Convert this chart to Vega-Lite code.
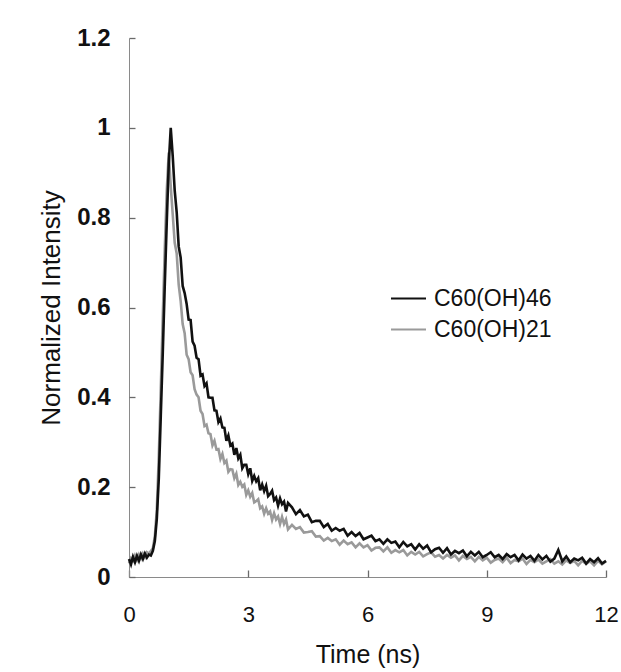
{
  "$schema": "https://vega.github.io/schema/vega-lite/v6.json",
  "width": 477,
  "height": 539,
  "autosize": "none",
  "padding": {"left": 129, "top": 38, "right": 15, "bottom": 95},
  "background": "white",
  "config": {
    "font": "Liberation Sans",
    "view": {"stroke": null},
    "axis": {"grid": false, "domainColor": "#8a8a8a", "tickColor": "#6a6a6a", "tickWidth": 1.3, "labelColor": "#111", "titleColor": "#111"}
  },
  "data": {
    "values": [
      {"t":0,"b":0.040,"g":0.030},{"t":0.05,"b":0.028,"g":0.042},{"t":0.1,"b":0.045,"g":0.036},{"t":0.15,"b":0.033,"g":0.048},
      {"t":0.2,"b":0.047,"g":0.038},{"t":0.25,"b":0.036,"g":0.050},{"t":0.3,"b":0.050,"g":0.041},{"t":0.35,"b":0.040,"g":0.052},
      {"t":0.4,"b":0.052,"g":0.044},{"t":0.45,"b":0.043,"g":0.055},{"t":0.5,"b":0.050,"g":0.052},{"t":0.55,"b":0.048,"g":0.058},
      {"t":0.6,"b":0.058,"g":0.064},{"t":0.65,"b":0.080,"g":0.090},{"t":0.7,"b":0.130,"g":0.150},{"t":0.75,"b":0.220,"g":0.270},
      {"t":0.8,"b":0.360,"g":0.420},{"t":0.85,"b":0.500,"g":0.580},{"t":0.9,"b":0.650,"g":0.730},{"t":0.95,"b":0.790,"g":0.860},
      {"t":1.0,"b":0.920,"g":0.945},{"t":1.05,"b":1.000,"g":0.870},{"t":1.1,"b":0.937,"g":0.807},{"t":1.15,"b":0.860,"g":0.744},
      {"t":1.2,"b":0.812,"g":0.720},{"t":1.25,"b":0.736,"g":0.651},{"t":1.3,"b":0.711,"g":0.614},{"t":1.35,"b":0.648,"g":0.563},
      {"t":1.4,"b":0.632,"g":0.543},{"t":1.45,"b":0.608,"g":0.495},{"t":1.5,"b":0.573,"g":0.485},{"t":1.55,"b":0.572,"g":0.456},
      {"t":1.6,"b":0.524,"g":0.449},{"t":1.65,"b":0.515,"g":0.418},{"t":1.7,"b":0.488,"g":0.406},{"t":1.75,"b":0.485,"g":0.400},
      {"t":1.8,"b":0.448,"g":0.370},{"t":1.85,"b":0.451,"g":0.363},{"t":1.9,"b":0.425,"g":0.336},{"t":1.95,"b":0.431,"g":0.339},
      {"t":2.0,"b":0.400,"g":0.320},{"t":2.05,"b":0.399,"g":0.318},{"t":2.1,"b":0.399,"g":0.293},{"t":2.15,"b":0.371,"g":0.303},
      {"t":2.2,"b":0.370,"g":0.284},{"t":2.25,"b":0.345,"g":0.285},{"t":2.3,"b":0.353,"g":0.263},{"t":2.35,"b":0.333,"g":0.274},
      {"t":2.4,"b":0.332,"g":0.254},{"t":2.45,"b":0.303,"g":0.259},{"t":2.5,"b":0.315,"g":0.234},{"t":2.55,"b":0.293,"g":0.240},
      {"t":2.6,"b":0.297,"g":0.239},{"t":2.65,"b":0.272,"g":0.220},{"t":2.7,"b":0.287,"g":0.230},{"t":2.75,"b":0.264,"g":0.205},
      {"t":2.8,"b":0.272,"g":0.212},{"t":2.85,"b":0.242,"g":0.201},{"t":2.9,"b":0.250,"g":0.206},{"t":2.95,"b":0.250,"g":0.183},
      {"t":3.0,"b":0.229,"g":0.193},{"t":3.05,"b":0.242,"g":0.179},{"t":3.1,"b":0.214,"g":0.187},{"t":3.15,"b":0.225,"g":0.166},
      {"t":3.2,"b":0.213,"g":0.169},{"t":3.25,"b":0.220,"g":0.173},{"t":3.3,"b":0.193,"g":0.153},{"t":3.35,"b":0.206,"g":0.157},
      {"t":3.4,"b":0.191,"g":0.141},{"t":3.45,"b":0.203,"g":0.153},{"t":3.5,"b":0.180,"g":0.141},{"t":3.55,"b":0.185,"g":0.146},
      {"t":3.6,"b":0.192,"g":0.127},{"t":3.65,"b":0.171,"g":0.142},{"t":3.7,"b":0.177,"g":0.128},{"t":3.75,"b":0.159,"g":0.135},
      {"t":3.8,"b":0.175,"g":0.118},{"t":3.85,"b":0.162,"g":0.134},{"t":3.9,"b":0.168,"g":0.118},{"t":3.95,"b":0.146,"g":0.128},
      {"t":4.0,"b":0.165,"g":0.106},
      {"t":4.1,"b":0.155,"g":0.116},{"t":4.2,"b":0.140,"g":0.107},{"t":4.3,"b":0.149,"g":0.111},{"t":4.4,"b":0.135,"g":0.099},
      {"t":4.5,"b":0.139,"g":0.100},{"t":4.6,"b":0.122,"g":0.102},{"t":4.7,"b":0.125,"g":0.090},{"t":4.8,"b":0.125,"g":0.091},
      {"t":4.9,"b":0.111,"g":0.081},{"t":5.0,"b":0.118,"g":0.087},{"t":5.1,"b":0.103,"g":0.080},{"t":5.2,"b":0.109,"g":0.084},
      {"t":5.3,"b":0.103,"g":0.072},{"t":5.4,"b":0.107,"g":0.081},{"t":5.5,"b":0.092,"g":0.073},{"t":5.6,"b":0.100,"g":0.077},
      {"t":5.7,"b":0.091,"g":0.066},{"t":5.8,"b":0.098,"g":0.075},{"t":5.9,"b":0.084,"g":0.066},{"t":6.0,"b":0.088,"g":0.071},
      {"t":6.1,"b":0.092,"g":0.059},{"t":6.2,"b":0.080,"g":0.065},{"t":6.3,"b":0.084,"g":0.066},{"t":6.4,"b":0.074,"g":0.057},
      {"t":6.5,"b":0.084,"g":0.066},{"t":6.6,"b":0.076,"g":0.054},{"t":6.7,"b":0.079,"g":0.060},{"t":6.8,"b":0.066,"g":0.055},
      {"t":6.9,"b":0.078,"g":0.060},{"t":7.0,"b":0.068,"g":0.048},{"t":7.1,"b":0.073,"g":0.056},{"t":7.2,"b":0.061,"g":0.050},
      {"t":7.3,"b":0.073,"g":0.056},{"t":7.4,"b":0.063,"g":0.046},{"t":7.5,"b":0.070,"g":0.051},{"t":7.6,"b":0.055,"g":0.055},
      {"t":7.7,"b":0.062,"g":0.045},{"t":7.8,"b":0.065,"g":0.049},{"t":7.9,"b":0.054,"g":0.041},{"t":8.0,"b":0.064,"g":0.049},
      {"t":8.1,"b":0.050,"g":0.043},{"t":8.2,"b":0.058,"g":0.048},{"t":8.3,"b":0.053,"g":0.037},{"t":8.4,"b":0.059,"g":0.047},
      {"t":8.5,"b":0.046,"g":0.040},{"t":8.6,"b":0.056,"g":0.045},{"t":8.7,"b":0.048,"g":0.035},{"t":8.8,"b":0.056,"g":0.045},
      {"t":8.9,"b":0.044,"g":0.037},{"t":9.0,"b":0.049,"g":0.043},{"t":9.1,"b":0.055,"g":0.032},{"t":9.2,"b":0.044,"g":0.038},
      {"t":9.3,"b":0.049,"g":0.041},{"t":9.4,"b":0.040,"g":0.033},{"t":9.5,"b":0.051,"g":0.043},{"t":9.6,"b":0.044,"g":0.031},
      {"t":9.7,"b":0.049,"g":0.038},{"t":9.8,"b":0.037,"g":0.035},{"t":9.9,"b":0.050,"g":0.041},{"t":10.0,"b":0.041,"g":0.029},
      {"t":10.1,"b":0.047,"g":0.038},{"t":10.2,"b":0.036,"g":0.033},{"t":10.3,"b":0.049,"g":0.039},{"t":10.4,"b":0.039,"g":0.030},
      {"t":10.5,"b":0.047,"g":0.035},{"t":10.6,"b":0.034,"g":0.040},{"t":10.7,"b":0.041,"g":0.030},{"t":10.8,"b":0.060,"g":0.035},
      {"t":10.9,"b":0.035,"g":0.028},{"t":11.0,"b":0.046,"g":0.037},{"t":11.1,"b":0.033,"g":0.031},{"t":11.2,"b":0.041,"g":0.036},
      {"t":11.3,"b":0.037,"g":0.026},{"t":11.4,"b":0.043,"g":0.036},{"t":11.5,"b":0.030,"g":0.029},{"t":11.6,"b":0.040,"g":0.035},
      {"t":11.7,"b":0.033,"g":0.026},{"t":11.8,"b":0.042,"g":0.036},{"t":11.9,"b":0.030,"g":0.028},{"t":12.0,"b":0.036,"g":0.035}
    ]
  },
  "transform": [{"fold": ["b", "g"], "as": ["s", "v"]}],
  "layer": [
    {
      "transform": [{"filter": "datum.s == 'g'"}],
      "mark": {"type": "line", "strokeWidth": 2.6},
      "encoding": {
        "x": {
          "field": "t", "type": "quantitative",
          "scale": {"domain": [0, 12], "nice": false, "zero": false},
          "axis": {"values": [0, 3, 6, 9, 12], "title": "Time (ns)", "titleFontSize": 25, "titleFontWeight": "normal", "titlePadding": 17,
                   "labelFontSize": 22, "labelPadding": 27, "ticks": false, "tickSize": 0, "labelFlush": false}
        },
        "y": {
          "field": "v", "type": "quantitative",
          "scale": {"domain": [0, 1.2], "nice": false},
          "axis": {"values": [0, 0.2, 0.4, 0.6, 0.8, 1, 1.2], "format": ".1~f", "title": "Normalized Intensity", "titleFontSize": 26, "titleFontWeight": "normal",
                   "titlePadding": 12, "labelFontSize": 24, "labelFontWeight": "bold", "labelPadding": 19, "ticks": false, "tickSize": 0}
        },
        "color": {
          "field": "s", "type": "nominal",
          "scale": {"domain": ["b", "g"], "range": ["#111111", "#9a9a9a"]},
          "legend": {
            "title": null, "orient": "none", "legendX": 261, "legendY": 242,
            "labelExpr": "datum.label == 'b' ? 'C60(OH)46' : 'C60(OH)21'",
            "labelFontSize": 23, "labelColor": "#111", "labelOffset": 7,
            "symbolType": "stroke", "symbolSize": 1225, "symbolStrokeWidth": 2, "rowPadding": -7, "padding": 0
          }
        }
      }
    },
    {
      "transform": [{"filter": "datum.s == 'b'"}],
      "mark": {"type": "line", "strokeWidth": 2.6},
      "encoding": {
        "x": {
          "field": "t", "type": "quantitative",
          "axis": {"orient": "top", "offset": -539, "values": [0, 3, 6, 9, 12], "title": null, "labels": false, "domain": false, "tickSize": 7}
        },
        "y": {
          "field": "v", "type": "quantitative",
          "axis": {"orient": "right", "offset": -477, "values": [0, 0.2, 0.4, 0.6, 0.8, 1, 1.2], "title": null, "labels": false, "domain": false, "tickSize": 6}
        },
        "color": {"field": "s", "type": "nominal"}
      }
    }
  ],
  "resolve": {"axis": {"x": "independent", "y": "independent"}}
}
